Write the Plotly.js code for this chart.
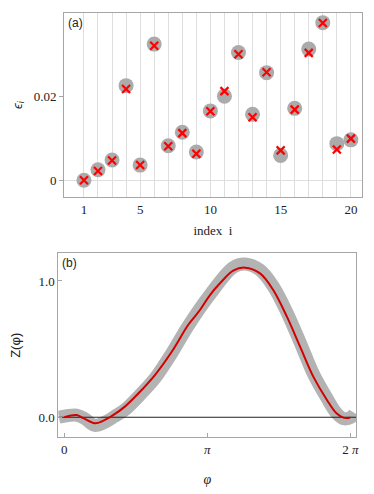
<!DOCTYPE html>
<html>
<head>
<meta charset="utf-8">
<script src="https://cdn.plot.ly/plotly-3.0.1.min.js"></script>
<style>
  body { margin: 0; background: #fff; }
  #chart { width: 374px; height: 494px; }
</style>
</head>
<body>
<div id="chart"></div>
<script>
// panel (a): eigen values per index
const idx = [1, 2, 3, 4, 5, 6, 7, 8, 9, 10, 11, 12, 13, 14, 15, 16, 17, 18, 19, 20];
const epsRef = [0.0, 0.0025, 0.0048, 0.0225, 0.0036, 0.0324, 0.0082, 0.0114, 0.0067, 0.0165,
  0.0200, 0.0304, 0.0157, 0.0256, 0.0059, 0.0171, 0.0312, 0.0375, 0.0087, 0.0096];
const epsFit = [0.0, 0.0022, 0.0047, 0.0217, 0.0036, 0.0320, 0.0081, 0.0112, 0.0063, 0.0164,
  0.0212, 0.0300, 0.0150, 0.0257, 0.0071, 0.0168, 0.0303, 0.0374, 0.0073, 0.0099];
const idxLabels = idx.map(i => [1, 5, 10, 15, 20].includes(i) ? String(i) : "");

// panel (b): Z(phi)
const phiRed = [0, 0.27, 0.42, 0.67, 0.86, 1.08, 1.33, 1.63, 1.99, 2.36, 2.72, 2.98, 3.20, 3.42,
  3.71, 3.97, 4.30, 4.59, 4.89, 5.18, 5.47, 5.77, 5.98, 6.13, 6.28];
const zRed = [0.0, 0.017, -0.007, -0.044, -0.025, 0.017, 0.078, 0.176, 0.31, 0.481, 0.677, 0.787,
  0.897, 0.983, 1.076, 1.098, 1.056, 0.934, 0.738, 0.518, 0.298, 0.127, 0.029, -0.003, -0.003];
const phiGray = [-0.12, 0.27, 0.45, 0.67, 0.9, 1.1, 1.35, 1.65, 2.0, 2.36, 2.72, 3.2, 3.71, 3.97,
  4.3, 4.59, 4.89, 5.18, 5.47, 5.77, 5.98, 6.13, 6.3, 6.38];
const zGray = [0.0, 0.015, -0.01, -0.06, -0.035, 0.005, 0.06, 0.16, 0.29, 0.47, 0.67, 0.9, 1.1, 1.125,
  1.08, 0.96, 0.77, 0.55, 0.32, 0.14, 0.03, -0.01, 0.0, 0.03];
const phiTicks = [0, Math.PI, 2 * Math.PI];
const phiLabels = ["0", "<i>π</i>", "2 <i>π</i>"];

const serif = "Liberation Serif, Times New Roman, serif";
const sans = "Liberation Sans, Arial, sans-serif";
const frame = "#a6a6a6";

const data = [
  {
    x: idx, y: epsRef, xaxis: "x", yaxis: "y",
    type: "scatter", mode: "markers",
    marker: { size: 15, color: "#ababab" }
  },
  {
    x: idx, y: epsFit, xaxis: "x", yaxis: "y",
    type: "scatter", mode: "markers",
    marker: { size: 8, symbol: "x-thin", line: { width: 2.2, color: "#ff0000" }, color: "#ff0000" }
  },
  {
    x: phiGray, y: zGray, xaxis: "x2", yaxis: "y2",
    type: "scatter", mode: "lines",
    line: { color: "#b3b3b3", width: 13, shape: "spline" }
  },
  {
    x: [-0.2, 6.6], y: [0, 0], xaxis: "x2", yaxis: "y2",
    type: "scatter", mode: "lines",
    line: { color: "#222", width: 1 }
  },
  {
    x: phiRed, y: zRed, xaxis: "x2", yaxis: "y2",
    type: "scatter", mode: "lines",
    line: { color: "#d40000", width: 2, shape: "spline" }
  }
];

const layout = {
  width: 374, height: 494,
  margin: { l: 0, r: 0, t: 0, b: 0 },
  showlegend: false,
  paper_bgcolor: "#fff", plot_bgcolor: "#fff",
  font: { family: serif, size: 13, color: "#222" },
  xaxis: {
    domain: [0.1711, 0.9679], anchor: "y",
    range: [-0.42, 20.79],
    tickvals: idx, ticktext: idxLabels, ticks: "",
    showgrid: true, gridcolor: "#dedede", gridwidth: 1,
    zeroline: false,
    showline: true, mirror: true, linecolor: frame, linewidth: 1,
    title: { text: "index  i", font: { family: serif, size: 13 }, standoff: 10 }
  },
  yaxis: {
    domain: [0.6012, 0.9737], anchor: "x",
    range: [-0.0040, 0.0398],
    tickvals: [0, 0.02], ticktext: ["0", "0.02"],
    ticks: "outside", ticklen: 4, tickcolor: frame,
    showgrid: false,
    zeroline: true, zerolinecolor: "#dedede", zerolinewidth: 1,
    showline: true, mirror: true, linecolor: frame, linewidth: 1,
    title: { text: "<i>ϵ<sub>i</sub></i>", font: { family: sans, size: 13 }, standoff: 8 }
  },
  xaxis2: {
    domain: [0.1559, 0.9527], anchor: "y2",
    range: [-0.132, 6.415],
    tickvals: phiTicks, ticktext: phiLabels,
    ticks: "inside", ticklen: 4, tickcolor: frame,
    showgrid: false, zeroline: false,
    showline: true, mirror: true, linecolor: frame, linewidth: 1,
    title: { text: "<i>φ</i>", font: { family: serif, size: 14 }, standoff: 18 }
  },
  yaxis2: {
    domain: [0.1148, 0.4872], anchor: "x2",
    range: [-0.147, 1.203],
    tickvals: [0, 1], ticktext: ["0.0", "1.0"],
    ticks: "inside", ticklen: 4, tickcolor: frame,
    showgrid: false, zeroline: false,
    showline: true, mirror: true, linecolor: frame, linewidth: 1,
    title: { text: "Z(φ)", font: { family: sans, size: 13 }, standoff: 14 }
  },
  annotations: [
    {
      text: "(a)", xref: "paper", yref: "paper",
      x: 0.1711, y: 0.9737, xanchor: "left", yanchor: "top",
      xshift: 2, yshift: -1, showarrow: false,
      font: { family: sans, size: 12, color: "#222" }
    },
    {
      text: "(b)", xref: "paper", yref: "paper",
      x: 0.1559, y: 0.4872, xanchor: "left", yanchor: "top",
      xshift: 2, yshift: -1, showarrow: false,
      font: { family: sans, size: 12, color: "#222" }
    }
  ]
};

Plotly.newPlot("chart", data, layout, { displayModeBar: false, staticPlot: true });
</script>
</body>
</html>
